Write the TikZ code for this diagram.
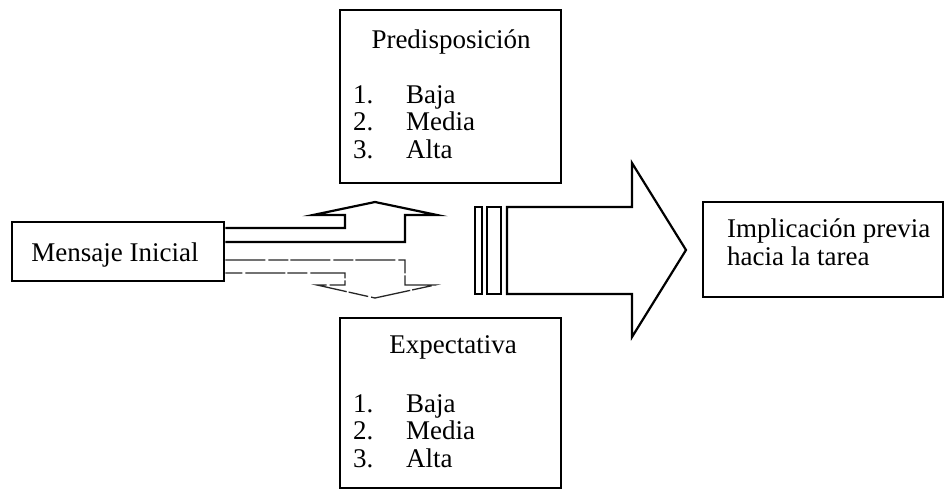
\documentclass[tikz,border=0pt]{standalone}
\usepackage{fontspec}
\setmainfont{Liberation Serif}
\begin{document}
\begin{tikzpicture}[x=1pt,y=-1pt,
  box/.style={draw=black,line width=2.8pt,inner sep=0pt,fill=white},
  txt/.style={inner sep=0pt,font=\fontsize{27}{32}\selectfont},
  arr/.style={draw=black,line width=2.2pt,line join=miter},
  arrlight/.style={draw=black!85,line width=1.3pt,dash pattern=on 40pt off 3pt on 20pt off 2pt},
  bar/.style={draw=black,line width=1.8pt}]
\useasboundingbox (0,0) rectangle (946,490);
% boxes
\node[box,minimum width=221pt,minimum height=173pt] (pred) at (450.5,96.5) {};
\node[box,minimum width=221pt,minimum height=170pt] (expe) at (450.5,403) {};
\node[box,minimum width=212pt,minimum height=59pt] (mens) at (118,251.5) {};
\node[box,minimum width=240pt,minimum height=95pt] (impl) at (823,249.5) {};
% texts
\node[txt,anchor=base] (predt) at (451,48) {Predisposición};
\node[txt,anchor=base west] (p1n) at (353,103) {1.};
\node[txt,anchor=base west] (p1) at (406,103) {Baja};
\node[txt,anchor=base west] (p2n) at (353,130) {2.};
\node[txt,anchor=base west] (p2) at (406,130) {Media};
\node[txt,anchor=base west] (p3n) at (353,158) {3.};
\node[txt,anchor=base west] (p3) at (406,158) {Alta};
\node[txt,anchor=base] (expt) at (453,353) {Expectativa};
\node[txt,anchor=base west] (e1n) at (353,412) {1.};
\node[txt,anchor=base west] (e1) at (406,412) {Baja};
\node[txt,anchor=base west] (e2n) at (353,439) {2.};
\node[txt,anchor=base west] (e2) at (406,439) {Media};
\node[txt,anchor=base west] (e3n) at (353,467) {3.};
\node[txt,anchor=base west] (e3) at (406,467) {Alta};
\node[txt,anchor=base] (menst) at (115,261) {Mensaje Inicial};
\node[txt,anchor=base west] (impl1) at (727,237) {Implicación previa};
\node[txt,anchor=base west] (impl2) at (727,265) {hacia la tarea};
% upper bent arrow
\draw[arr] (mens.east |- 0,228) -- (345,228) -- (345,215) -- (313,215) -- (375,202)
  -- (437,215) -- (405,215) -- (405,242) -- (mens.east |- 0,242);
% lower bent arrow (lighter)
\draw[arrlight] (mens.east |- 0,260) -- (405,260) -- (405,285) -- (435,285) -- (375,298)
  -- (317,285) -- (345,285) -- (345,273) -- (mens.east |- 0,273);
% bars
\draw[bar] (475,207) rectangle (482,294);
\draw[bar] (487,207) rectangle (501,294);
% big arrow
\draw[arr] (507,207) -- (632,207) -- (632,163) -- (686,250) -- (632,337) -- (632,294) -- (507,294) -- cycle;
\end{tikzpicture}
\end{document}
